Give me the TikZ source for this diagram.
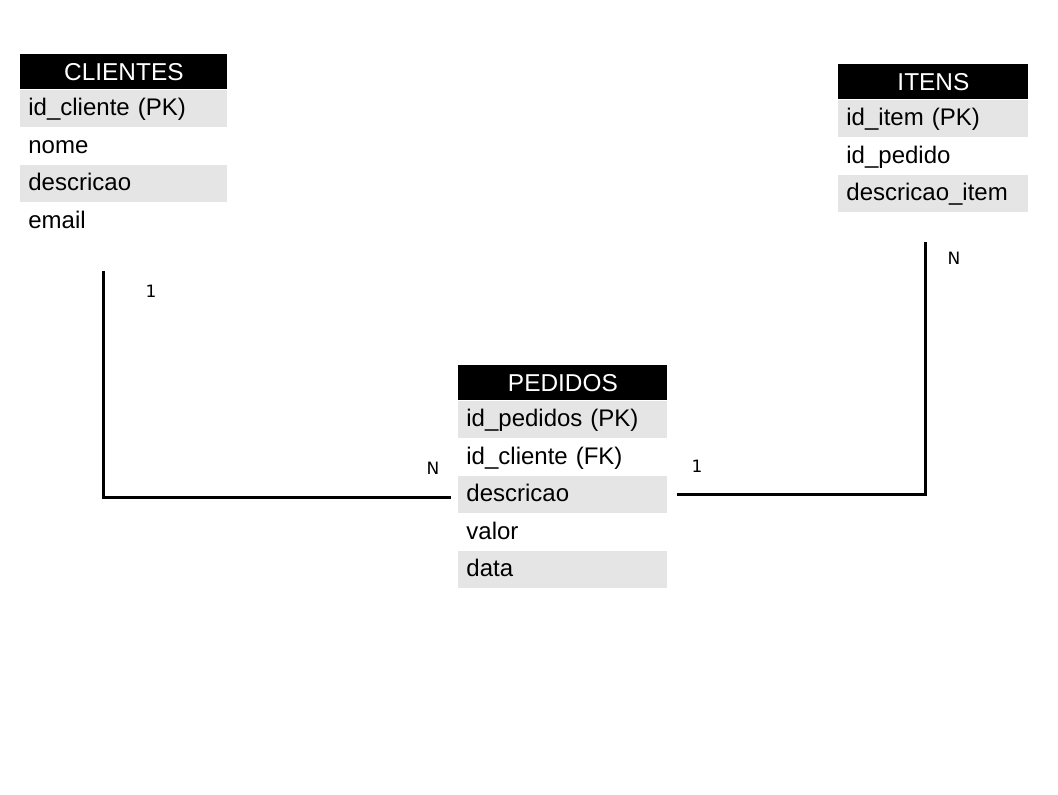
\documentclass[tikz,border=0pt]{standalone}
\usepackage{fontspec}
\setmainfont{Liberation Sans}
\newfontfamily\lblfont{DejaVu Sans}
\usetikzlibrary{positioning}
\begin{document}
\begin{tikzpicture}[x=.5pt,y=-.5pt,
 tbltitle/.style={fill=black,text=white,anchor=north west,inner xsep=4pt,inner ysep=0pt,
  minimum height=17.5pt,text width=#1,align=center,text height=9pt,text depth=0pt,
  font=\fontsize{12.2}{14}\selectfont},
 tblrow/.style={inner xsep=4pt,inner ysep=0pt,minimum height=18.35pt,text width=#1,
  align=left,text height=9.4pt,text depth=2pt,font=\fontsize{12}{14}\selectfont},
 tblgray/.style={tblrow=#1,fill=black!10},
 relline/.style={line width=1.5pt},
 card/.style={font=\lblfont\fontsize{8.5}{10}\selectfont,inner sep=0pt},
 ]
 \useasboundingbox (0,0) rectangle (1058,794);
 % CLIENTES
 \node[tbltitle=95.5pt] (cliTitle) at (20,54) {CLIENTES};
 \node[tblgray=95.5pt,below=0pt of cliTitle] (cliId) {id\_cliente (PK)};
 \node[tblrow=95.5pt,below=0pt of cliId] (cliNome) {nome};
 \node[tblgray=95.5pt,below=0pt of cliNome] (cliDesc) {descricao};
 \node[tblrow=95.5pt,below=0pt of cliDesc] (cliEmail) {email};
 % ITENS
 \node[tbltitle=87pt] (itnTitle) at (838,64) {ITENS};
 \node[tblgray=87pt,below=0pt of itnTitle] (itnId) {id\_item (PK)};
 \node[tblrow=87pt,below=0pt of itnId] (itnPed) {id\_pedido};
 \node[tblgray=87pt,below=0pt of itnPed] (itnDesc) {descricao\_item};
 % PEDIDOS
 \node[tbltitle=96.5pt] (pedTitle) at (458,365) {PEDIDOS};
 \node[tblgray=96.5pt,below=0pt of pedTitle] (pedId) {id\_pedidos (PK)};
 \node[tblrow=96.5pt,below=0pt of pedId] (pedCli) {id\_cliente (FK)};
 \node[tblgray=96.5pt,below=0pt of pedCli] (pedDesc) {descricao};
 \node[tblrow=96.5pt,below=0pt of pedDesc] (pedValor) {valor};
 \node[tblgray=96.5pt,below=0pt of pedValor] (pedData) {data};
 % ligacoes
 \coordinate (cliLine) at (103,271);
 \coordinate (itnLine) at (925,242);
 \draw[relline] (cliLine) |- ([xshift=-3.5pt,yshift=-1.6pt]pedDesc.west);
 \draw[relline] ([xshift=4.5pt]pedDesc.east) -| (itnLine);
 \node[card] (cardCli) at (151,291) {1};
 \node[card] (cardPedL) at (433,468) {N};
 \node[card] (cardPedR) at (697,466) {1};
 \node[card] (cardItn) at (954,258) {N};
\end{tikzpicture}
\end{document}
